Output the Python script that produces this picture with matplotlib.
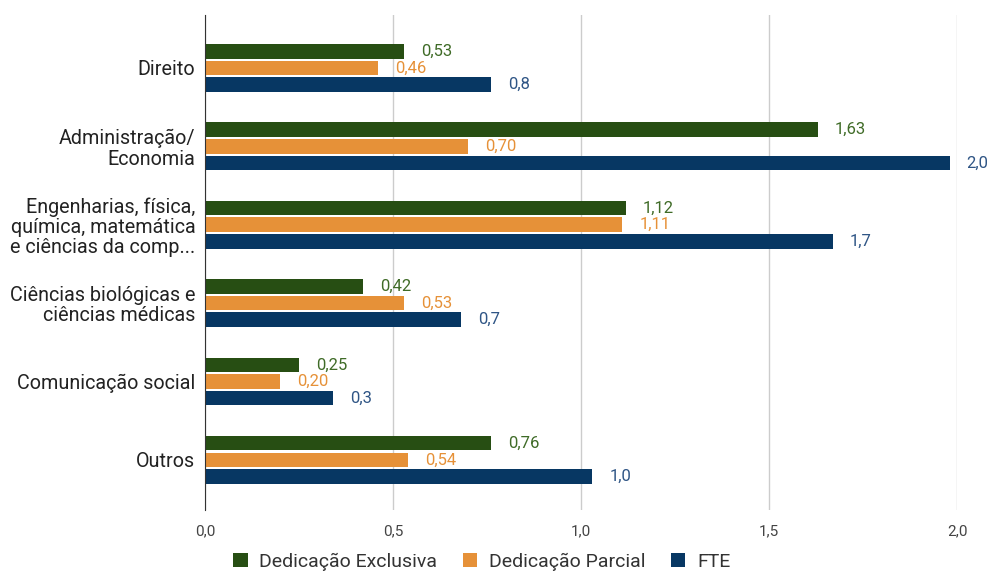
import numpy as np
import matplotlib.pyplot as plt

plt.rcParams['font.family'] = ['Roboto', 'DejaVu Sans']

categorias = ['Direito', 'Administração/\nEconomia',
              'Engenharias, física,\nquímica, matemática\ne ciências da comp...',
              'Ciências biológicas e\nciências médicas', 'Comunicação social', 'Outros']
exclusiva = [0.53, 1.63, 1.12, 0.42, 0.25, 0.76]
parcial = [0.46, 0.70, 1.11, 0.53, 0.20, 0.54]
fte = [0.76, 1.98, 1.67, 0.68, 0.34, 1.03]

series = [
    ('Dedicação Exclusiva', exclusiva, '#274e13', '#3f6b27', '{:.2f}'),
    ('Dedicação Parcial', parcial, '#e69138', '#e69138', '{:.2f}'),
    ('FTE', fte, '#073763', '#2f5585', '{:.1f}'),
]

fig = plt.figure(figsize=(9.89, 5.78), dpi=100)
ax = fig.add_axes([0.2073, 0.1176, 0.7604, 0.8564])

y = np.arange(len(categorias))
h = 0.185
passo = 0.212
for i, (nome, vals, cor, cor_txt, fmt) in enumerate(series):
    pos = y + (i - 1) * passo
    ax.barh(pos, vals, height=h, color=cor, label=nome, zorder=3)
    for p, v in zip(pos, vals):
        ax.text(v + 0.045, p, fmt.format(v).replace('.', ','), color=cor_txt,
                va='center', ha='left', fontsize=12, zorder=4)

ax.set_ylim(len(categorias) - 1 + 0.64, -0.675)
ax.set_xlim(0, 2.0)
ax.set_yticks(y)
ax.set_yticklabels(categorias, fontsize=14.2, color='#222222', linespacing=1.08)
ax.set_xticks([0, 0.5, 1.0, 1.5, 2.0])
ax.set_xticklabels(['0,0', '0,5', '1,0', '1,5', '2,0'], fontsize=11, color='#444444')
ax.tick_params(axis='both', length=0)
ax.tick_params(axis='x', pad=10)
ax.tick_params(axis='y', pad=7)
ax.grid(axis='x', color='#cccccc', linewidth=1, zorder=0)
for s in ['top', 'right', 'bottom']:
    ax.spines[s].set_visible(False)
ax.spines['left'].set_color('#333333')
ax.spines['left'].set_zorder(5)

fig.legend(loc='lower center', bbox_to_anchor=(0.487, -0.018), ncol=3, frameon=False,
           fontsize=14, handlelength=0.75, handleheight=0.75, columnspacing=1.3,
           handletextpad=0.6, labelcolor='#333333')

fig.savefig('out.png', dpi=100)
